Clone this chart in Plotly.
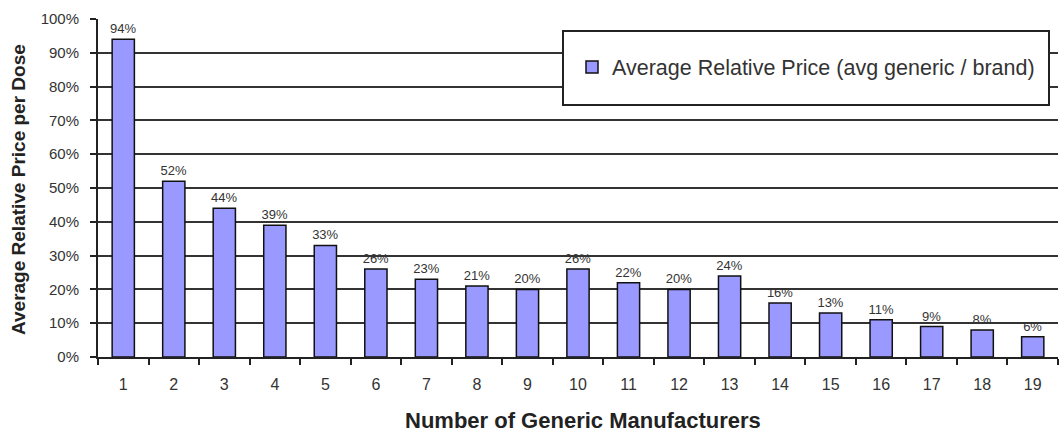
import plotly.graph_objects as go

categories = [str(i) for i in range(1, 20)]
values = [0.94, 0.52, 0.44, 0.39, 0.33, 0.26, 0.23, 0.21, 0.20, 0.26,
          0.22, 0.20, 0.24, 0.16, 0.13, 0.11, 0.09, 0.08, 0.06]
series_name = "Average Relative Price (avg generic / brand)"
y_ticks = [i / 10 for i in range(11)]
y_tick_labels = [f"{i * 10}%" for i in range(11)]
x_title = "Number of Generic Manufacturers"
y_title = "Average Relative Price per Dose"

L, R, T, B = 98, 3, 19, 75
PW, PH = 1061 - L - R, 432 - T - B

fig = go.Figure()
fig.add_trace(go.Bar(
    x=categories, y=values, name=series_name,
    marker=dict(color="#9999ff", line=dict(color="#111111", width=1.5)),
    width=0.44,
    text=values, texttemplate="%{y:.0%}", textposition="outside",
    constraintext="none",
    textfont=dict(family="Liberation Sans", size=13, color="#333333"),
    cliponaxis=False,
))

fig.update_layout(
    width=1061, height=432,
    margin=dict(l=L, r=R, t=T, b=B, autoexpand=False),
    paper_bgcolor="white", plot_bgcolor="white",
    font=dict(family="Liberation Sans", color="#222222"),
    showlegend=True,
    legend=dict(x=(572 - L) / PW, y=(357 - 67) / PH, xanchor="left", yanchor="middle",
                bgcolor="rgba(0,0,0,0)", borderwidth=0,
                font=dict(size=21.5, color="#333333")),
    shapes=[dict(type="rect", xref="paper", yref="paper",
                 x0=(563 - L) / PW, x1=(1049 - L) / PW,
                 y0=(357 - 105) / PH, y1=(357 - 31) / PH,
                 line=dict(color="#222222", width=2), fillcolor="white",
                 layer="above")],
    annotations=[
        dict(text=f"<b>{x_title}</b>", xref="paper", yref="paper",
             x=(583 - L) / PW, y=(357 - 420) / PH, xanchor="center", yanchor="middle",
             showarrow=False, font=dict(size=22, color="#222222")),
        dict(text=f"<b>{y_title}</b>", xref="paper", yref="paper",
             x=(18 - L) / PW, y=(357 - 190) / PH, xanchor="center", yanchor="middle",
             textangle=-90, showarrow=False, font=dict(size=19, color="#222222")),
    ],
)
fig.update_xaxes(
    type="category", tickson="boundaries", ticks="outside", ticklen=6,
    tickwidth=2, tickcolor="#222222", automargin=False,
    showline=True, linecolor="#222222", linewidth=2,
    tickfont=dict(size=16, color="#333333"), ticklabelstandoff=12,
    showgrid=False,
)
fig.update_yaxes(
    range=[0, 1], tickvals=y_ticks, ticktext=y_tick_labels, automargin=False,
    ticks="outside", ticklen=6, tickwidth=2, tickcolor="#222222",
    showline=True, linecolor="#222222", linewidth=2,
    showgrid=True, gridcolor="#333333", gridwidth=2,
    tickfont=dict(size=15, color="#333333"), ticklabelstandoff=8,
    zeroline=False,
)
fig.write_html(
    "out.html",
    config={"displayModeBar": False},
    post_script="document.body.style.margin='0';document.body.style.overflow='hidden';",
)
